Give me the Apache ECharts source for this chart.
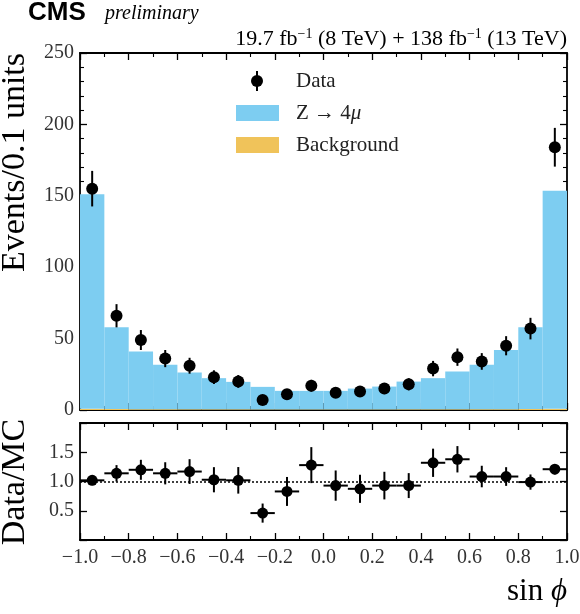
<!DOCTYPE html>
<html lang="en">
<head>
  <meta charset="UTF-8" />
  <title>sin phi - Z to 4 mu</title>
  <script src="https://cdn.jsdelivr.net/npm/echarts@6/dist/echarts.min.js"></script>
  <style>
    html, body { margin: 0; padding: 0; background: #fff; }
    #main { width: 580px; height: 614px; }
  </style>
</head>
<body>
  <div id="main"></div>
  <script>
    // bin edges of sin(phi), width 0.1
    var binEdges = [-1.0, -0.9, -0.8, -0.7, -0.6, -0.5, -0.4, -0.3, -0.2, -0.1, 0.0,
      0.1, 0.2, 0.3, 0.4, 0.5, 0.6, 0.7, 0.8, 0.9, 1.0];
    // Z -> 4mu prediction (stacked on background)
    var sigCounts = [150.2, 57.3, 40.4, 31.1, 25.8, 21.8, 19.2, 15.8, 13.0, 13.0,
      13.0, 14.6, 16.0, 19.4, 21.8, 26.5, 31.1, 41.4, 57.3, 152.7];
    var bkgCounts = [0.8, 0.7, 0.6, 0.6, 0.5, 0.5, 0.5, 0.4, 0.4, 0.4,
      0.4, 0.4, 0.4, 0.5, 0.5, 0.5, 0.6, 0.6, 0.7, 0.8];
    var dataCounts = [155, 66, 49, 36, 31, 23, 20, 7, 11, 17,
      12, 13, 15, 18, 29, 37, 34, 45, 57, 184];
    // Data/MC
    var ratioValues = [1.02, 1.14, 1.20, 1.14, 1.17, 1.03, 1.02, 0.46, 0.83, 1.28,
      0.93, 0.875, 0.93, 0.93, 1.32, 1.38, 1.085, 1.085, 0.99, 1.21];

    var SERIF = '"Liberation Serif", "DejaVu Serif", serif';
    var blue = '#7dcdf1';
    var orange = '#f0c35a';

    var histSig = [], histBkg = [], dataPts = [], dataErr = [], ratioPts = [], ratioErr = [];
    for (var i = 0; i < dataCounts.length; i++) {
      var lo = binEdges[i], hi = binEdges[i + 1], c = (lo + hi) / 2;
      var mc = sigCounts[i] + bkgCounts[i];
      histBkg.push([lo, hi, 0, bkgCounts[i]]);
      histSig.push([lo, hi, bkgCounts[i], mc]);
      dataPts.push([c, dataCounts[i]]);
      dataErr.push([c, dataCounts[i], Math.sqrt(dataCounts[i])]);
      ratioPts.push([c, ratioValues[i]]);
      ratioErr.push([c, ratioValues[i], Math.sqrt(dataCounts[i]) / mc, (hi - lo) / 2]);
    }

    function rectItem(color) {
      return function (params, api) {
        var p0 = api.coord([api.value(0), api.value(3)]);
        var p1 = api.coord([api.value(1), api.value(2)]);
        return {
          type: 'rect',
          shape: { x: p0[0], y: p0[1], width: p1[0] - p0[0], height: p1[1] - p0[1] },
          style: { fill: color }
        };
      };
    }

    function vErr(params, api) {
      var a = api.coord([api.value(0), api.value(1) - api.value(2)]);
      var b = api.coord([api.value(0), api.value(1) + api.value(2)]);
      return {
        type: 'line',
        shape: { x1: a[0], y1: a[1], x2: b[0], y2: b[1] },
        style: { stroke: '#000', lineWidth: 2 }
      };
    }

    function xyErr(params, api) {
      var x = api.value(0), y = api.value(1), e = api.value(2), w = api.value(3);
      var a = api.coord([x, y - e]), b = api.coord([x, y + e]);
      var l = api.coord([x - w, y]), r = api.coord([x + w, y]);
      return {
        type: 'group',
        children: [
          { type: 'line', shape: { x1: a[0], y1: a[1], x2: b[0], y2: b[1] }, style: { stroke: '#000', lineWidth: 2 } },
          { type: 'line', shape: { x1: l[0], y1: l[1], x2: r[0], y2: r[1] }, style: { stroke: '#000', lineWidth: 2 } }
        ]
      };
    }

    function fmtX(v) {
      if (Math.abs(v) < 1e-9) return '0.0';
      return (v < 0 ? '\u2212' : '') + Math.abs(v).toFixed(1);
    }

    var axisLine = { show: true, onZero: false, lineStyle: { color: '#000', width: 1.8 } };
    var tickX = { show: true, inside: true, length: 7, lineStyle: { color: '#000', width: 1.3 } };
    var minorX = { show: true, splitNumber: 2, length: 4, lineStyle: { color: '#000', width: 1.1 } };
    var labelStyle = { fontFamily: SERIF, fontSize: 20, color: '#333' };

    function xAxisDef(grid, pos, showLabel) {
      return {
        type: 'value', gridIndex: grid, position: pos, min: -1, max: 1, interval: 0.2,
        axisLine: axisLine, axisTick: tickX, minorTick: minorX,
        splitLine: { show: false },
        axisLabel: Object.assign({ show: showLabel, margin: 8, formatter: fmtX, showMinLabel: true, showMaxLabel: true }, labelStyle)
      };
    }

    var myChart = echarts.init(document.getElementById('main'));
    var option = {
      backgroundColor: '#fff',
      animation: false,
      grid: [
        { left: 80, right: 13, top: 53, height: 357, outerBoundsMode: 'none' },
        { left: 80, right: 13, top: 423, height: 117, outerBoundsMode: 'none' }
      ],
      xAxis: [
        xAxisDef(0, 'bottom', false),
        xAxisDef(0, 'top', false),
        xAxisDef(1, 'bottom', true),
        xAxisDef(1, 'top', false)
      ],
      yAxis: [
        {
          type: 'value', gridIndex: 0, position: 'left', min: 0, max: 250, interval: 50,
          axisLine: axisLine, splitLine: { show: false },
          axisTick: { inside: true, length: 7, lineStyle: { color: '#000', width: 1.3 } },
          minorTick: { show: true, splitNumber: 5, length: 4, lineStyle: { color: '#000', width: 1.1 } },
          axisLabel: Object.assign({ margin: 6 }, labelStyle)
        },
        {
          type: 'value', gridIndex: 0, position: 'right', min: 0, max: 250, interval: 50,
          axisLine: axisLine, splitLine: { show: false },
          axisTick: { inside: true, length: 7, lineStyle: { color: '#000', width: 1.3 } },
          minorTick: { show: true, splitNumber: 5, length: 4, lineStyle: { color: '#000', width: 1.1 } },
          axisLabel: { show: false }
        },
        {
          type: 'value', gridIndex: 1, position: 'left', min: 0, max: 2, interval: 0.5,
          axisLine: axisLine, splitLine: { show: false },
          axisTick: { inside: true, length: 7, lineStyle: { color: '#000', width: 1.3 } },
          axisLabel: Object.assign({
            margin: 6,
            formatter: function (v) { return (v <= 0 || v >= 2) ? '' : v.toFixed(1); }
          }, labelStyle)
        },
        {
          type: 'value', gridIndex: 1, position: 'right', min: 0, max: 2, interval: 0.5,
          axisLine: axisLine, splitLine: { show: false },
          axisTick: { inside: true, length: 7, lineStyle: { color: '#000', width: 1.3 } },
          axisLabel: { show: false }
        }
      ],
      series: [
        {
          name: 'Background', type: 'custom', xAxisIndex: 0, yAxisIndex: 0,
          renderItem: rectItem(orange), encode: { x: [0, 1], y: [2, 3] }, data: histBkg, z: 1
        },
        {
          name: 'Z \u2192 4\u03bc', type: 'custom', xAxisIndex: 0, yAxisIndex: 0,
          renderItem: rectItem(blue), encode: { x: [0, 1], y: [2, 3] }, data: histSig, z: 1
        },
        {
          name: 'Data err', type: 'custom', xAxisIndex: 0, yAxisIndex: 0,
          renderItem: vErr, encode: { x: 0, y: 1 }, data: dataErr, z: 3
        },
        {
          name: 'Data', type: 'scatter', xAxisIndex: 0, yAxisIndex: 0,
          symbol: 'circle', symbolSize: 12, itemStyle: { color: '#000', opacity: 1 },
          data: dataPts, z: 4
        },
        {
          name: 'Ratio err', type: 'custom', xAxisIndex: 2, yAxisIndex: 2,
          renderItem: xyErr, encode: { x: 0, y: 1 }, data: ratioErr, z: 3
        },
        {
          name: 'Ratio', type: 'scatter', xAxisIndex: 2, yAxisIndex: 2,
          symbol: 'circle', symbolSize: 11, itemStyle: { color: '#000', opacity: 1 },
          data: ratioPts, z: 4,
          markLine: {
            silent: true, symbol: ['none', 'none'], label: { show: false },
            lineStyle: { color: '#000', type: [2, 2], width: 1.6 },
            data: [{ yAxis: 1 }]
          }
        }
      ],
      graphic: [
        {
          type: 'text', x: 28, y: 13,
          style: { text: 'CMS', fontFamily: '"Liberation Sans", Arial, sans-serif', fontWeight: 'bold', fontSize: 26, fill: '#000', verticalAlign: 'middle' }
        },
        {
          type: 'text', x: 105, y: 14,
          style: { text: 'preliminary', fontFamily: SERIF, fontStyle: 'italic', fontSize: 20, fill: '#000', verticalAlign: 'middle' }
        },
        {
          type: 'text', x: 567, y: 39,
          style: {
            text: '19.7 fb{sup|\u22121} (8 TeV) + 138 fb{sup|\u22121} (13 TeV)',
            fontFamily: SERIF, fontSize: 22, fill: '#000', align: 'right', verticalAlign: 'middle',
            rich: { sup: { fontSize: 14, fontFamily: SERIF, verticalAlign: 'top', lineHeight: 24 } }
          }
        },
        // legend
        { type: 'line', shape: { x1: 257, y1: 71, x2: 257, y2: 91 }, style: { stroke: '#000', lineWidth: 2 } },
        { type: 'circle', shape: { cx: 257, cy: 81, r: 6 }, style: { fill: '#000' } },
        { type: 'text', x: 296, y: 81, style: { text: 'Data', fontFamily: SERIF, fontSize: 21, fill: '#222', verticalAlign: 'middle' } },
        { type: 'rect', shape: { x: 236, y: 105, width: 43, height: 16 }, style: { fill: blue } },
        {
          type: 'text', x: 296, y: 113,
          style: {
            text: 'Z \u2192 4{i|\u03bc}', fontFamily: SERIF, fontSize: 21, fill: '#222', verticalAlign: 'middle',
            rich: { i: { fontStyle: 'italic', fontSize: 21, fontFamily: SERIF } }
          }
        },
        { type: 'rect', shape: { x: 236, y: 137, width: 43, height: 16 }, style: { fill: orange } },
        { type: 'text', x: 296, y: 145, style: { text: 'Background', fontFamily: SERIF, fontSize: 21, fill: '#222', verticalAlign: 'middle' } },
        // axis titles
        {
          type: 'text', x: 15, y: 53, rotation: Math.PI / 2,
          style: { text: 'Events/0.1 units', fontFamily: SERIF, fontSize: 34, fill: '#000', align: 'right', verticalAlign: 'middle' }
        },
        {
          type: 'text', x: 15, y: 482, rotation: Math.PI / 2,
          style: { text: 'Data/MC', fontFamily: SERIF, fontSize: 34, fill: '#000', align: 'center', verticalAlign: 'middle' }
        },
        {
          type: 'text', x: 567, y: 592,
          style: {
            text: 'sin {i|\u03d5}', fontFamily: SERIF, fontSize: 31, fill: '#000', align: 'right', verticalAlign: 'middle',
            rich: { i: { fontStyle: 'italic', fontSize: 31, fontFamily: SERIF } }
          }
        }
      ]
    };
    myChart.setOption(option);
  </script>
</body>
</html>
